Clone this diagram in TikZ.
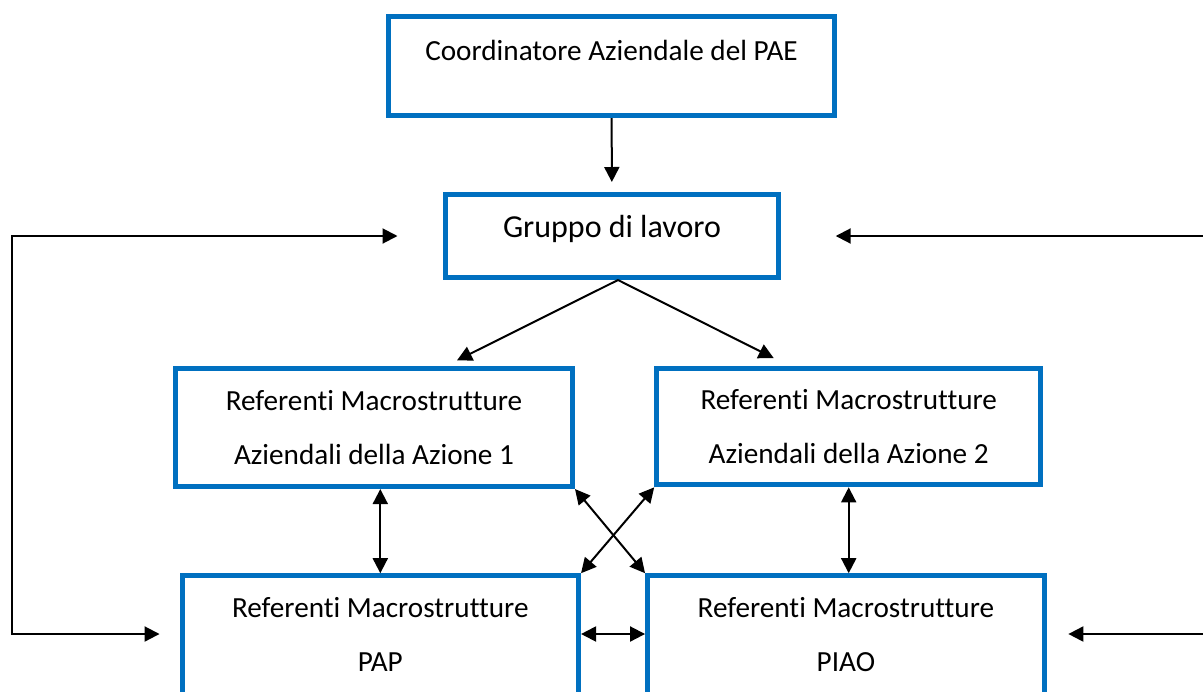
\documentclass[tikz,border=0pt]{standalone}
\usepackage{fontspec}
\setmainfont{Carlito}[Ligatures=NoCommon]
\usetikzlibrary{arrows.meta}
\definecolor{boxblue}{HTML}{0070C0}
\tikzset{
  org box/.style={
    draw=boxblue,
    line width=2.5pt,
    align=center,
    inner sep=0pt,
    font=\fontsize{14.6}{27}\selectfont,
  },
}

\begin{document}
\begin{tikzpicture}[x=0.5pt, y=-0.5pt, line width=1pt, >={Triangle[length=7.5pt,width=7.5pt]}]
        \useasboundingbox (0,0) rectangle (1203,691);
        \clip (0,0) rectangle (1203,691);
        \coordinate (left)  at (  12,0);
        \coordinate (right) at (1215,0);

        \node[org box, minimum width=223pt,    minimum height=49.5pt,  text height=10pt, text depth=16pt] (coord)  at (611.5, 66)   {Coordinatore Aziendale del PAE};
        \node[org box, minimum width=166.5pt,  minimum height=41.5pt,  text height=8pt,  text depth=7pt, font=\fontsize{16}{19}\selectfont] (gruppo) at (612,236) {Gruppo di lavoro};
        \node[org box, minimum width=198.5pt,  minimum height=58.85pt] (az1)  at (374,427.7)   {Referenti Macrostrutture\\Aziendali della Azione 1};
        \node[org box, minimum width=192pt,    minimum height=58.15pt] (az2)  at (848.7,426.7) {Referenti Macrostrutture\\Aziendali della Azione 2};
        % bottom row runs past the lower edge
        \node[org box, minimum width=198.25pt, minimum height=64pt] (pap)  at (380.3,639.7) {Referenti Macrostrutture\\PAP\rule[-5.2pt]{0pt}{0pt}};
        \node[org box, minimum width=198.35pt, minimum height=64pt] (piao) at (845.9,639.7) {Referenti Macrostrutture\\PIAO\rule[-5.2pt]{0pt}{0pt}};
        \coordinate (mid) at (0,634);

        \path[->] (coord) edge[shorten >=5pt] (gruppo);
        \path[->] ([xshift=3pt]gruppo.south) edge ([shift={(83,-6)}]az1.north);
        \path[->] ([xshift=3pt]gruppo.south) edge ([shift={(-75,-8)}]az2.north);

        \path[<->] (az1.south -| pap.north) edge (pap.north);
        \path[<->] (az2.south) edge (az2.south |- piao.north);
        \path[<->] (az1.south east) edge (piao.north west);
        \path[<->] (az2.south west) edge (pap.north east);
        \path[<->] (pap.east |- mid) edge (piao.west |- mid);

        \draw[<->, shorten <=22.75pt, shorten >=10pt] (gruppo.west) -- (left |-gruppo.west) -- (left |-mid) -- (pap.west |- mid);
        \draw[<->, shorten <=27.35pt, shorten >=10.8pt] (gruppo.east) -- (right|-gruppo.east) -- (right|-mid) -- (piao.east |- mid);
      \end{tikzpicture}
\end{document}
